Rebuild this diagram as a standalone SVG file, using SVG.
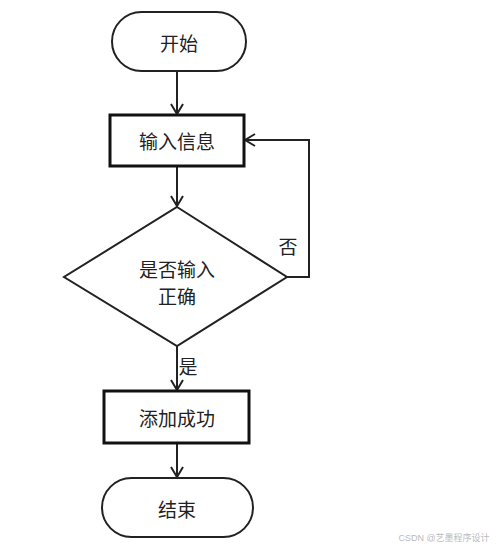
<svg xmlns="http://www.w3.org/2000/svg" width="499" height="553" viewBox="0 0 499 553">
<style>
.shape{fill:#fff;stroke:#222;stroke-width:2}
.box{fill:#fff;stroke:#111;stroke-width:3}
.t{font-family:"Noto Sans CJK SC","Liberation Sans",sans-serif;font-size:19px;fill:#222;text-anchor:middle;dominant-baseline:central}
.c{fill:none;stroke:#222;stroke-width:2}
</style>
<defs>
<marker id="ah" markerWidth="14" markerHeight="14" refX="11" refY="7" orient="auto" markerUnits="userSpaceOnUse">
<polyline points="1,1 11,7 1,13" fill="none" stroke="#222" stroke-width="2"/>
</marker>
</defs>
<rect width="499" height="553" fill="#fff"/>
<g id="connectors">
<line class="c" x1="177" y1="71" x2="177" y2="114" marker-end="url(#ah)"/>
<line class="c" x1="177" y1="166" x2="177" y2="206" marker-end="url(#ah)"/>
<polyline class="c" points="287,277 309,277 309,140 245,140" marker-end="url(#ah)"/>
<line class="c" x1="177" y1="346" x2="177" y2="390" marker-end="url(#ah)"/>
<line class="c" x1="177" y1="443" x2="177" y2="477" marker-end="url(#ah)"/>
<text class="t" x="288" y="245">否</text>
<text class="t" x="188" y="365">是</text>
</g>
<g id="start">
<rect class="shape" x="112" y="12" width="134" height="59" rx="29.5"/>
<text class="t" x="179" y="42">开始</text>
</g>
<g id="input">
<rect class="box" x="110" y="115" width="134" height="51"/>
<text class="t" x="177" y="140">输入信息</text>
</g>
<g id="check">
<polygon class="shape" points="177,207 287,277 177,346 64,277"/>
<text class="t" x="177" y="268">是否输入</text>
<text class="t" x="177" y="295">正确</text>
</g>
<g id="success">
<rect class="box" x="104" y="391" width="145" height="52"/>
<text class="t" x="177" y="417">添加成功</text>
</g>
<g id="end">
<rect class="shape" x="102" y="478" width="151" height="59" rx="29.5"/>
<text class="t" x="177" y="508">结束</text>
</g>
<text x="444" y="541" font-family="Liberation Sans,'Noto Sans CJK SC',sans-serif" font-size="9" fill="#bbb" text-anchor="middle">CSDN @艺墨程序设计</text>
</svg>
